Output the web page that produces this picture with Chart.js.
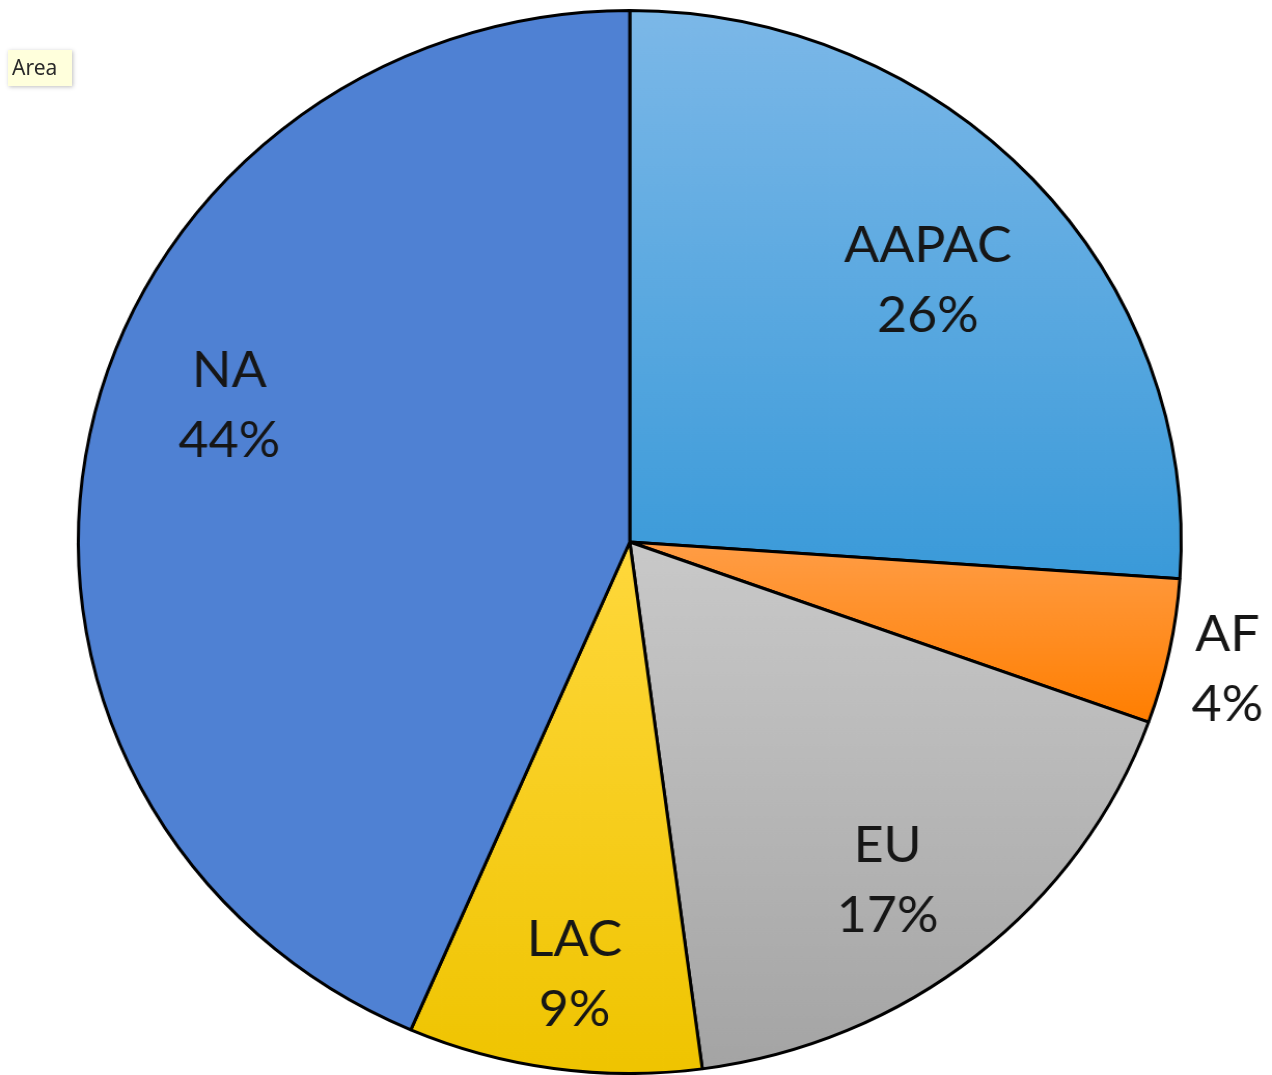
<!DOCTYPE html>
<html>
<head>
<meta charset="utf-8">
<title>Area</title>
<script src="https://cdn.jsdelivr.net/npm/chart.js@4.4.1/dist/chart.umd.min.js"></script>
<style>
  html, body { margin: 0; padding: 0; background: #fff; }
  #stage { position: relative; width: 1272px; height: 1075px; overflow: hidden; }
  #wrap { position: absolute; left: 0; top: 0; width: 1228px; height: 1075px;
          transform: scaleX(1.0375); transform-origin: 0 0; }
  #areaTag { position: absolute; left: 8px; top: 50px; width: 64px; height: 36px;
             box-sizing: border-box; padding: 3px 0 0 4px; background: #ffffdc;
             box-shadow: 1px 1px 4px rgba(0,0,0,0.25);
             font: 21px "Noto Sans", sans-serif; color: #2a2a2a; }
</style>
</head>
<body>
<div id="stage">
  <div id="wrap"><canvas id="pie"></canvas></div>
  <div id="areaTag">Area</div>
</div>
<script>
const regions = ["AAPAC", "AF", "EU", "LAC", "NA"];
const shares = [26.1, 4.4, 17.4, 8.6, 43.5];
const shareLabels = ["26%", "4%", "17%", "9%", "44%"];

const topColors = ["#7cb8e8", "#ff9d46", "#c9c9c9", "#ffd83c", "#4f81d3"];
const bottomColors = ["#3a9ad9", "#ff7e00", "#a4a4a4", "#efc400", "#4f81d3"];

// vertical gradient over the height of each slice
function sliceGradient(c) {
  const chart = c.chart;
  const area = chart.chartArea;
  const i = c.dataIndex;
  if (!area) return bottomColors[i];
  const cy = (area.top + area.bottom) / 2;
  const r = Math.min(area.width, area.height) / 2;
  const total = shares.reduce((a, b) => a + b, 0);
  const before = shares.slice(0, i).reduce((a, b) => a + b, 0);
  const a0 = -Math.PI / 2 + 2 * Math.PI * before / total;
  const a1 = a0 + 2 * Math.PI * shares[i] / total;
  const ys = [0, Math.sin(a0), Math.sin(a1)];
  [Math.PI / 2, Math.PI * 1.5].forEach(a => { if (a > a0 && a < a1) ys.push(Math.sin(a)); });
  const g = chart.ctx.createLinearGradient(0, cy + r * Math.min(...ys), 0, cy + r * Math.max(...ys));
  g.addColorStop(0, topColors[i]);
  g.addColorStop(1, bottomColors[i]);
  return g;
}

const sliceLabels = {
  id: "sliceLabels",
  afterDatasetsDraw(chart, args, opts) {
    const ctx = chart.ctx;
    const arcs = chart.getDatasetMeta(0).data;
    ctx.save();
    ctx.font = opts.font;
    ctx.fillStyle = opts.color;
    ctx.textAlign = "center";
    ctx.textBaseline = "middle";
    arcs.forEach((arc, i) => {
      const mid = (arc.startAngle + arc.endAngle) / 2 + (opts.turn[i] || 0) * Math.PI / 180;
      const d = arc.outerRadius * opts.radial[i];
      const x = arc.x + Math.cos(mid) * d;
      const y = arc.y + Math.sin(mid) * d;
      ctx.fillText(regions[i], x, y - opts.gap);
      ctx.fillText(shareLabels[i], x, y + opts.gap);
    });
    ctx.restore();
  }
};

new Chart(document.getElementById("pie"), {
  type: "pie",
  data: {
    labels: regions,
    datasets: [{
      data: shares,
      backgroundColor: sliceGradient,
      borderColor: "#000",
      borderWidth: 3
    }]
  },
  options: {
    responsive: true,
    maintainAspectRatio: false,
    animation: false,
    layout: { padding: { top: 9, bottom: 0, left: 0, right: 14 } },
    plugins: {
      legend: { display: false },
      tooltip: { enabled: false },
      sliceLabels: {
        font: '50px Lato, "Noto Sans", sans-serif',
        color: "#161616",
        gap: 35,
        radial: [0.73, 1.11, 0.79, 0.82, 0.77],
        turn: [0.8, 0.6, 2.6, -0.9, 7.7]
      }
    }
  },
  plugins: [sliceLabels]
});
</script>
</body>
</html>
